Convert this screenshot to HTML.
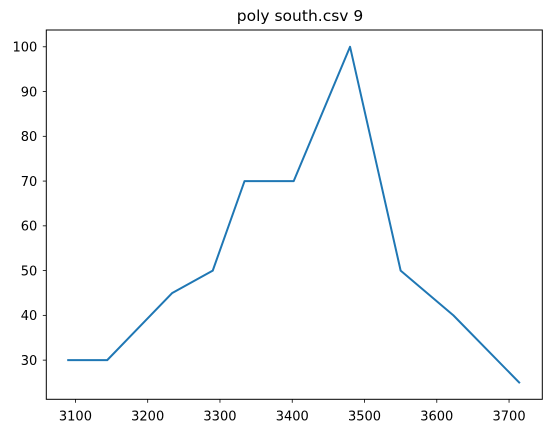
<!DOCTYPE html>
<html><head><meta charset="utf-8"><style>
body{margin:0;background:#fff;}
svg{display:block;font-family:"DejaVu Sans","Liberation Sans",sans-serif;}
</style></head><body>
<svg id="chart" width="552" height="433" viewBox="0 0 552 433" xmlns="http://www.w3.org/2000/svg">
<text x="300" y="21" font-size="15.5" text-anchor="middle" fill="#000">poly south.csv 9</text>
<g id="axes"></g>
</svg>
<script>
const xValues=[3090,3144,3234,3290,3334,3402,3480,3550,3623,3714];
const yValues=[30,30,45,50,70,70,100,50,40,25];
const xTicks=[3100,3200,3300,3400,3500,3600,3700];
const yTicks=[30,40,50,60,70,80,90,100];
const L=46.3,R=542.3,T=30,B=399.3;
const xmin=3059.7,xmax=3746,ymin=21.25,ymax=103.75;
function sx(v){return L+(v-xmin)/(xmax-xmin)*(R-L);}
function sy(v){return B-(v-ymin)/(ymax-ymin)*(B-T);}
const NS="http://www.w3.org/2000/svg";
const g=document.getElementById('axes');
function mk(t,a){const e=document.createElementNS(NS,t);for(const k in a)e.setAttribute(k,a[k]);g.appendChild(e);return e;}
xTicks.forEach(v=>{
 const l=mk('line',{x1:sx(v),x2:sx(v),y1:B,y2:B+3.5,stroke:'#000','stroke-width':0.8});
 
 
 const t=mk('text',{x:sx(v),y:B+21,'font-size':13,'text-anchor':'middle',fill:'#000'});
 t.textContent=v;
 
 
});
yTicks.forEach(v=>{
 const l=mk('line',{x1:L-3.5,x2:L,y1:sy(v),y2:sy(v),stroke:'#000','stroke-width':0.8});
 
 
 const t=mk('text',{x:L-9,y:sy(v)+4.7,'font-size':13,'text-anchor':'end',fill:'#000'});
 t.textContent=v;
 
 
});
const p=mk('polyline',{points:xValues.map((x,i)=>sx(x)+','+sy(yValues[i])).join(' '),fill:'none',stroke:'#1f77b4','stroke-width':2,'stroke-linejoin':'round','stroke-linecap':'square'});


const f=mk('rect',{x:L,y:T,width:R-L,height:B-T,fill:'none',stroke:'#000','stroke-width':1});


</script>
</body></html>
